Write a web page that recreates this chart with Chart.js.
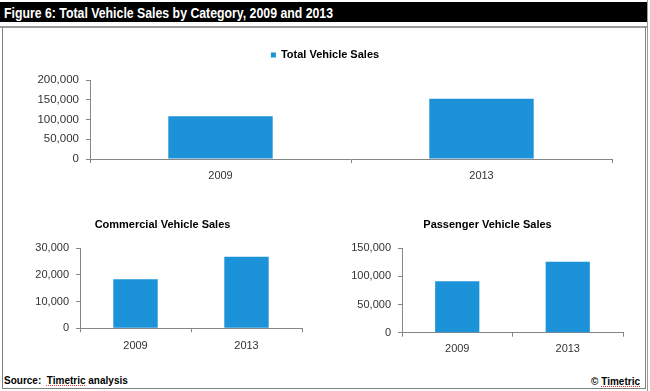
<!DOCTYPE html>
<html>
<head>
<meta charset="utf-8">
<script src="https://cdn.jsdelivr.net/npm/chart.js@4"></script>
<style>
    body { margin: 0; background: #fff; font-family: 'Liberation Sans', Arial, sans-serif; }
    #page { position: relative; width: 650px; height: 391px; overflow: hidden; }
    #bar { position: absolute; left: 0; top: 2px; width: 647px; height: 20px; background: #000; }
    #bar span { position: absolute; left: 4px; top: 2px; color: #fff; font-weight: bold; font-size: 15px;
        transform: scaleX(0.82); transform-origin: left top; white-space: nowrap; }
    #rule { position: absolute; left: 0; top: 26px; width: 647px; height: 2px; background: #9a9a9a; }
    #box { position: absolute; left: 2px; top: 27px; width: 642px; height: 361px; border: 1px solid #808080; border-top: none; }
    #edge { position: absolute; left: 647px; top: 0; width: 1px; height: 391px; background: #9a9a9a; }
    canvas { position: absolute; }
    .note { position: absolute; font-size: 10px; font-weight: bold; color: #000; white-space: nowrap; }
    .note u { text-decoration: underline dotted #d33; }
</style>
</head>
<body>
<div id="page">
    <div id="bar"><span>Figure 6: Total Vehicle Sales by Category, 2009 and 2013</span></div>
    <div id="rule"></div>
    <div id="box"></div>
    <div id="edge"></div>
    <canvas id="totalChart" style="left:0;top:28px" width="650" height="170"></canvas>
    <canvas id="comercialChart" style="left:0;top:200px" width="325" height="170"></canvas>
    <canvas id="pasajerosChart" style="left:325px;top:200px" width="325" height="170"></canvas>
    <div class="note" style="left:4px;top:375px">Source:&nbsp; <u>Timetric</u> analysis</div>
    <div class="note" style="right:10px;top:376px">© <u>Timetric</u></div>
</div>
<script>
// Datos
const years = ['2009', '2013'];
const totalSales = [108500, 152800];
const commercialSales = [18400, 26800];
const passengerSales = [91500, 126000];

const totalTicks = [0, 50000, 100000, 150000, 200000];
const commercialTicks = [0, 10000, 20000, 30000];
const passengerTicks = [0, 50000, 100000, 150000];

const barColor = '#1c93d8';
const axisColor = '#868686';
const textColor = '#333';
const fontFamily = "'Liberation Sans', Arial, sans-serif";

Chart.defaults.font.family = fontFamily;
Chart.defaults.color = textColor;

// Leyenda o título centrado sobre todo el canvas
const headerPlugin = {
    id: 'header',
    afterDraw: (chart, args, opts) => {
        if (!opts.display) return;
        const ds = chart.data.datasets[0];
        const ctx = chart.ctx;
        ctx.save();
        ctx.font = 'bold 11px ' + fontFamily;
        ctx.textBaseline = 'middle';
        if (opts.legend) {
            const textW = ctx.measureText(ds.label).width;
            const box = 5;
            const gap = 5;
            const startX = chart.width / 2 - (box + gap + textW) / 2;
            ctx.fillStyle = ds.backgroundColor;
            ctx.fillRect(startX, opts.y - box / 2, box, box);
            ctx.fillStyle = '#000';
            ctx.fillText(ds.label, startX + box + gap, opts.y);
        } else {
            ctx.fillStyle = '#000';
            ctx.textAlign = 'center';
            ctx.fillText(opts.text, chart.width / 2, opts.y);
        }
        ctx.restore();
    }
};

function makeBarChart(id, cfg) {
    const canvas = document.getElementById(id);
    return new Chart(canvas.getContext('2d'), {
        type: 'bar',
        data: {
            labels: years,
            datasets: [{
                label: cfg.label,
                data: cfg.values,
                backgroundColor: barColor,
                borderWidth: 0,
                categoryPercentage: 1,
                barPercentage: 0.4
            }]
        },
        options: {
            responsive: false,
            animation: false,
            layout: { padding: cfg.padding },
            plugins: {
                legend: { display: false },
                tooltip: { enabled: false },
                title: { display: false },
                header: cfg.header
            },
            scales: {
                x: {
                    offset: true,
                    border: { color: axisColor },
                    grid: { offset: true, drawOnChartArea: false, drawTicks: true, tickLength: 4, color: axisColor },
                    ticks: { font: { size: 11 }, color: textColor, padding: cfg.xPad },
                    afterFit: (scale) => { scale.height = cfg.xHeight; }
                },
                y: {
                    min: 0,
                    max: cfg.ticks[cfg.ticks.length - 1],
                    afterBuildTicks: (scale) => { scale.ticks = cfg.ticks.map(v => ({ value: v })); },
                    border: { color: axisColor },
                    grid: { drawOnChartArea: false, drawTicks: true, tickLength: 4, color: axisColor },
                    ticks: {
                        font: { size: cfg.yFont },
                        color: textColor,
                        padding: 7,
                        callback: (v) => Number(v).toLocaleString('en-US')
                    },
                    afterFit: (scale) => { scale.width = cfg.yWidth; }
                }
            }
        },
        plugins: [headerPlugin]
    });
}

// Gráfico superior: ventas totales
makeBarChart('totalChart', {
    label: 'Total Vehicle Sales',
    values: totalSales,
    ticks: totalTicks,
    padding: { top: 52, right: 38, left: 0, bottom: 0 },
    yWidth: 90,
    xHeight: 39,
    xPad: 6,
    yFont: 11.5,
    header: { display: true, legend: true, y: 27 }
});

// Gráfico inferior izquierdo: vehículos comerciales
makeBarChart('comercialChart', {
    label: 'Commercial Vehicle Sales',
    values: commercialSales,
    ticks: commercialTicks,
    padding: { top: 48.3, right: 23, left: 0, bottom: 0 },
    yWidth: 80,
    xHeight: 41.7,
    xPad: 7,
    yFont: 11,
    header: { display: true, legend: false, text: 'Commercial Vehicle Sales', y: 25 }
});

// Gráfico inferior derecho: vehículos de pasajeros
makeBarChart('pasajerosChart', {
    label: 'Passenger Vehicle Sales',
    values: passengerSales,
    ticks: passengerTicks,
    padding: { top: 48.3, right: 27, left: 0, bottom: 0 },
    yWidth: 77,
    xHeight: 37.3,
    xPad: 6,
    yFont: 11,
    header: { display: true, legend: false, text: 'Passenger Vehicle Sales', y: 25 }
});
</script>
</body>
</html>
